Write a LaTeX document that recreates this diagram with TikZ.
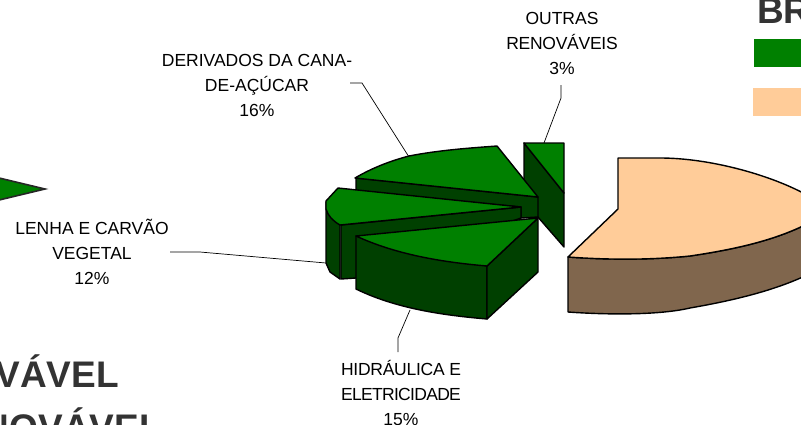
\documentclass[tikz,border=0pt]{standalone}
\usepackage{fontspec}
\setmainfont{Liberation Sans}
\definecolor{topgreen}{HTML}{008000}
\definecolor{sidegreen}{HTML}{004000}
\definecolor{peach}{HTML}{FFCC99}
\definecolor{sidebrown}{HTML}{80664D}
\definecolor{titlegray}{HTML}{333333}
\newcommand{\tightA}[1]{{\addfontfeature{LetterSpace=-4}#1}}
\newcommand{\tightB}[1]{{\addfontfeature{LetterSpace=-1.5}#1}}
\tikzset{
  wedge/.style={draw=black,line width=1.4pt,line join=round},
  greentop/.style={wedge,fill=topgreen},
  greenside/.style={wedge,fill=sidegreen},
  leader/.style={draw=black,line width=0.7pt},
  lab/.style={align=center,font=\fontsize{17.5}{25}\selectfont,inner sep=0pt,text=black},
  title/.style={font=\fontsize{37}{40}\selectfont\bfseries,text=titlegray,inner sep=0pt}
}
\begin{document}
\begin{tikzpicture}[x=1pt,y=-1pt]
\useasboundingbox (0,0) rectangle (801,424);
\clip (0,0) rectangle (801,424);
% leaders
\coordinate (d0) at (350,83); \coordinate (d1) at (362,83); \coordinate (d2) at (409,157);
\coordinate (o0) at (561,85); \coordinate (o1) at (561,98); \coordinate (o2) at (544,143);
\coordinate (l0) at (170,252); \coordinate (l1) at (200,252); \coordinate (l2) at (326,263);
\coordinate (h0) at (398,352); \coordinate (h1) at (398,338); \coordinate (h2) at (410,310);
\draw[leader] (d0)--(d1)--(d2);
\draw[leader] (o0)--(o1)--(o2);
\draw[leader] (l0)--(l1)--(l2);
\draw[leader] (h0)--(h1)--(h2);
% left fragment
\path[draw=black!85,line width=1.6pt,fill=topgreen,line join=miter] (-5,177) -- (45,189) -- (-5,201) -- cycle;
% outras
\path[greenside] (524,143) -- (524,201) -- (564,247) -- (564,193) -- cycle;
\path[greentop] (524,143) -- (564,143) -- (564,193) -- cycle;
% derivados
\path[greenside] (356,178) -- (356,192) -- (521,207) -- (521,218) -- (538,217) -- (538,197) -- cycle;
\path[greentop] (355,178) .. controls (372,168) and (390,161) .. (409,156) .. controls (440,150) and (470,148) .. (497,146) -- (538,197) -- cycle;
% lenha
\path[greenside] (326,202) -- (326,263) -- (330,272) -- (340,279) -- (340,225) -- cycle;
\path[greenside] (341,225) -- (341,279) -- (356,278) -- (521,218) -- (521,207) -- cycle;
\path[greentop] (338,188) -- (326,201) -- (326,209) .. controls (328,216) and (333,221) .. (340,225) -- (521,207) -- cycle;
% hidraulica
\path[greenside] (356,236) -- (356,289) .. controls (395,308) and (440,315) .. (487,319) -- (487,266) -- cycle;
\path[greenside] (487,266) -- (487,319) -- (538,272) -- (538,218) -- cycle;
\path[greentop] (356,236) .. controls (395,254) and (440,262) .. (487,266) -- (538,218) -- cycle;
% nao renovavel
\path[wedge,fill=sidebrown] (568,257) -- (568,312) .. controls (610,315) and (660,315) .. (690,308) .. controls (730,301) and (770,292) .. (805,276) -- (805,225) .. controls (770,242) and (730,250) .. (690,256) .. controls (650,260) and (610,260) .. (568,257) -- cycle;
\path[wedge,fill=peach] (618,158) -- (618,209) -- (568,257) .. controls (610,260) and (650,260) .. (690,256) .. controls (730,250) and (770,242) .. (805,225) -- (805,194) .. controls (770,175) and (710,158) .. (660,158) -- cycle;
% legend
\node[fill=topgreen,minimum width=50pt,minimum height=28pt,inner sep=0pt,anchor=north west] (legA) at (754,39) {};
\node[fill=peach,minimum width=50pt,minimum height=28pt,inner sep=0pt,anchor=north west] (legB) at (753,88) {};
% titles
\node[title,anchor=base west] (tBR) at (757,23) {BR};
\node[title,anchor=base east] (tV) at (119,387) {VÁVEL};
\node[title,anchor=base east] (tN) at (162,440) {NOVÁVEL};
% labels
\node[lab] (labD) at (257,85) {DERIVADOS DA CANA-\\DE-AÇÚCAR\\16\%};
\node[lab] (labO) at (562,43) {OUTRAS\\\tightB{RENOVÁVEIS}\\3\%};
\node[lab] (labL) at (92,252) {LENHA E CARVÃO\\VEGETAL\\12\%};
\node[lab] (labH) at (401,393) {\tightB{HIDRÁULICA E}\\\tightA{ELETRICIDADE}\\15\%};
\end{tikzpicture}
\end{document}
